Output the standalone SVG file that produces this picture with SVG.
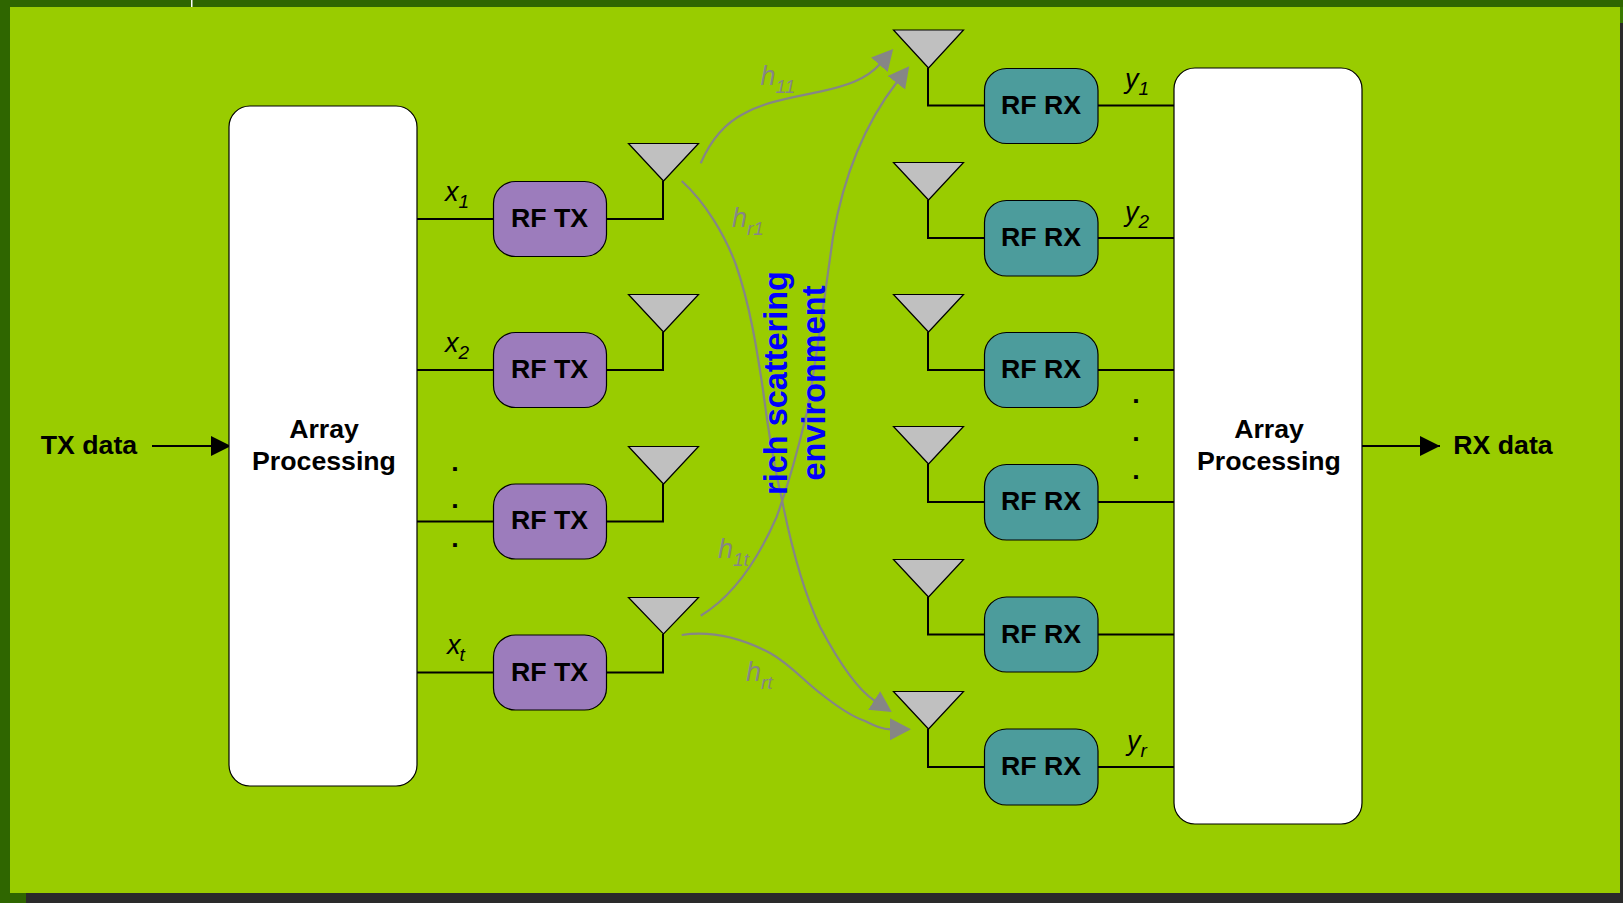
<svg xmlns="http://www.w3.org/2000/svg" width="1623" height="903" viewBox="0 0 1623 903">
<style>
.t{font-family:"Liberation Sans",Arial,sans-serif;fill:#000}
.b{font-weight:bold;font-size:26.7px;text-anchor:middle}
.i{font-style:italic;font-size:27px}
.s{font-size:19px}
.g{fill:#868686}
.box{stroke:#000;stroke-width:1.2}
.w{fill:#fff}
.tx{fill:#9c7cbc}
.rx{fill:#4c9c9c}
.a{fill:#c0c0c0;stroke:#000;stroke-width:1.2}
.l{fill:none;stroke:#000;stroke-width:2}
.c{fill:none;stroke:#868686;stroke-width:2.2}
.bl{font-family:"Liberation Sans",Arial,sans-serif;font-weight:bold;font-size:32.500px;fill:#00f;text-anchor:middle}
</style>
<defs>
<marker id="ga" markerUnits="userSpaceOnUse" markerWidth="22" markerHeight="24" refX="1" refY="11.500" orient="auto"><path d="M0 0.500L21 11.500L0 22.500Z" fill="#868686"/></marker>
<marker id="ka" markerUnits="userSpaceOnUse" markerWidth="22" markerHeight="22" refX="20" refY="10" orient="auto"><path d="M0 0L20 10L0 20Z" fill="#000"/></marker>
</defs>
<rect width="1623" height="903" fill="#2a2a2a"/>
<rect width="1623" height="7" fill="#2f6600"/>
<rect x="1620" y="7" width="3" height="16" fill="#3a7a00"/>
<rect width="10" height="903" fill="#2f6600"/>
<rect y="893" width="26" height="10" fill="#2f6600"/>
<rect x="191" width="1.500" height="7" fill="#fff"/>
<rect x="10" y="7" width="1610" height="886" fill="#9c0"/>
<g id="connectors">
<path class="l" d="M152 446H231" marker-end="url(#ka)"/>
<path class="l" d="M1362 446H1440" marker-end="url(#ka)"/>
<path class="l" d="M417 219H493M607 219H663V181"/>
<path class="l" d="M417 370H493M607 370H663V332"/>
<path class="l" d="M417 521.500H493M607 521.500H663V484"/>
<path class="l" d="M417 672.500H493M607 672.500H663V634"/>
<path class="l" d="M928 68V105.500H984M1098 105.500H1174"/>
<path class="l" d="M928 200V238H984M1098 238H1174"/>
<path class="l" d="M928 332V370H984M1098 370H1174"/>
<path class="l" d="M928 464V502H984M1098 502H1174"/>
<path class="l" d="M928 597V634.500H984M1098 634.500H1174"/>
<path class="l" d="M928 729V767H984M1098 767H1174"/>
<path class="c" d="M700.700 163.300C715 130 735 118 745 113C765 102 790 98 820 91.700C845 86 866 80 880 64" marker-end="url(#ga)"/>
<path class="c" d="M700.700 615.700C735 595 760 555 776.700 516.700C790 480 798 450 806.700 413C815 370 824 300 833 237C842 185 860 130 897 82" marker-end="url(#ga)"/>
<path class="c" d="M681.700 181C705 202 725 235 736 265C750 305 757 350 763 390C768 430 775 470 782 500C792 550 805 595 820 626.700C835 655 855 688 875 701" marker-end="url(#ga)"/>
<path class="c" d="M681.700 635C715 630 745 640 770 653C790 664 805 682 820 693C835 705 850 716 865 721C875 726 882 729.300 891 729.300" marker-end="url(#ga)"/>
</g>
<g id="array-tx"><rect class="box w" x="229" y="106" width="188" height="680" rx="21"/><text class="t b" x="324" y="438">Array</text><text class="t b" x="324" y="470">Processing</text></g>
<g id="array-rx"><rect class="box w" x="1174" y="68" width="188" height="756" rx="21"/><text class="t b" x="1269" y="438">Array</text><text class="t b" x="1269" y="470">Processing</text></g>
<g id="rf-tx-1"><rect class="box tx" x="493.500" y="181.500" width="113" height="75" rx="22"/><text class="t b" x="549.500" y="227">RF TX</text></g>
<g id="rf-tx-2"><rect class="box tx" x="493.500" y="332.500" width="113" height="75" rx="22"/><text class="t b" x="549.500" y="378">RF TX</text></g>
<g id="rf-tx-3"><rect class="box tx" x="493.500" y="484" width="113" height="75" rx="22"/><text class="t b" x="549.500" y="529">RF TX</text></g>
<g id="rf-tx-4"><rect class="box tx" x="493.500" y="635" width="113" height="75" rx="22"/><text class="t b" x="549.500" y="681">RF TX</text></g>
<g id="rf-rx-1"><rect class="box rx" x="984.500" y="68.500" width="113.500" height="75" rx="22"/><text class="t b" x="1041" y="114">RF RX</text></g>
<g id="rf-rx-2"><rect class="box rx" x="984.500" y="200.500" width="113.500" height="75.500" rx="22"/><text class="t b" x="1041" y="246">RF RX</text></g>
<g id="rf-rx-3"><rect class="box rx" x="984.500" y="332.500" width="113.500" height="75" rx="22"/><text class="t b" x="1041" y="378">RF RX</text></g>
<g id="rf-rx-4"><rect class="box rx" x="984.500" y="464.500" width="113.500" height="75.500" rx="22"/><text class="t b" x="1041" y="510">RF RX</text></g>
<g id="rf-rx-5"><rect class="box rx" x="984.500" y="597" width="113.500" height="75" rx="22"/><text class="t b" x="1041" y="643">RF RX</text></g>
<g id="rf-rx-6"><rect class="box rx" x="984.500" y="729" width="113.500" height="76" rx="22"/><text class="t b" x="1041" y="775">RF RX</text></g>
<g id="ant-tx-1"><path class="a" d="M628.500 143.500H698.500L663.500 181Z"/></g>
<g id="ant-tx-2"><path class="a" d="M628.500 294.500H698.500L663.500 332Z"/></g>
<g id="ant-tx-3"><path class="a" d="M628.500 446.500H698.500L663.500 484Z"/></g>
<g id="ant-tx-4"><path class="a" d="M628.500 597.500H698.500L663.500 634Z"/></g>
<g id="ant-rx-1"><path class="a" d="M893.500 30H963.500L928.500 68Z"/></g>
<g id="ant-rx-2"><path class="a" d="M893.500 162.500H963.500L928.500 200Z"/></g>
<g id="ant-rx-3"><path class="a" d="M893.500 294.500H963.500L928.500 332Z"/></g>
<g id="ant-rx-4"><path class="a" d="M893.500 426.500H963.500L928.500 464Z"/></g>
<g id="ant-rx-5"><path class="a" d="M893.500 559.500H963.500L928.500 597Z"/></g>
<g id="ant-rx-6"><path class="a" d="M893.500 691.500H963.500L928.500 729Z"/></g>
<g id="labels">
<text class="t b" x="89" y="454">TX data</text>
<text class="t b" x="1503" y="454">RX data</text>
<text class="t i" x="445" y="201">x<tspan class="s" dx="0" dy="7">1</tspan></text>
<text class="t i" x="445" y="352">x<tspan class="s" dx="0" dy="7">2</tspan></text>
<text class="t i" x="447" y="654">x<tspan class="s" dx="-1" dy="7">t</tspan></text>
<text class="t i" x="1125" y="88">y<tspan class="s" dx="0" dy="7">1</tspan></text>
<text class="t i" x="1125" y="221">y<tspan class="s" dx="0" dy="7">2</tspan></text>
<text class="t i" x="1127" y="750">y<tspan class="s" dx="0" dy="7">r</tspan></text>
<text class="t i g" x="760.500" y="85">h<tspan class="s" dy="8">11</tspan></text>
<text class="t i g" x="732" y="227">h<tspan class="s" dy="8">r1</tspan></text>
<text class="t i g" x="718" y="558">h<tspan class="s" dy="8">1t</tspan></text>
<text class="t i g" x="746" y="681">h<tspan class="s" dy="8">rt</tspan></text>
<text class="t b" x="455" y="471">.</text><text class="t b" x="455" y="508">.</text><text class="t b" x="455" y="547">.</text>
<text class="t b" x="1136" y="403">.</text><text class="t b" x="1136" y="441">.</text><text class="t b" x="1136" y="479">.</text>
<text class="bl" transform="translate(787 383) rotate(-90)">rich scattering</text>
<text class="bl" transform="translate(825 383) rotate(-90)">environment</text>
</g>
</svg>
